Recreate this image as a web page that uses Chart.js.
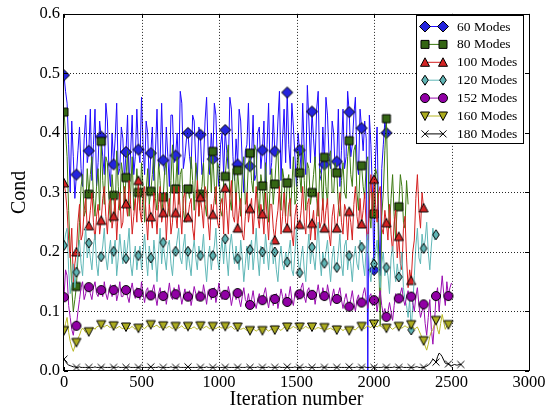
<!DOCTYPE html>
<html>
<head>
<meta charset="utf-8">
<script src="https://cdn.jsdelivr.net/npm/chart.js@4.4.1/dist/chart.umd.min.js"></script>
<style>
  html, body { margin: 0; padding: 0; background: #fff; }
  #wrap { width: 549px; height: 410px; }
</style>
</head>
<body>
<div id="wrap"><canvas id="cond" width="549" height="410"></canvas></div>
<script>
// samples are every 10 iterations, a marker on every 8th sample
const STEP = 10;
const MARK_EVERY = 8;

const seriesNames = ['60 Modes', '80 Modes', '100 Modes', '120 Modes', '152 Modes', '160 Modes', '180 Modes'];
const xTicks = [0, 500, 1000, 1500, 2000, 2500, 3000];
const yTicks = [0, 0.1, 0.2, 0.3, 0.4, 0.5, 0.6];

const modes60 = [
  0.497,0.47, 0.45,0.38, 0.30,0.42, 0.36,0.29, 0.33,0.37, 0.41,0.34, 0.31,0.39, 0.43,0.35,
  0.37,0.44, 0.32,0.38, 0.44,0.31, 0.35,0.42, 0.394,0.36, 0.33,0.45, 0.42,0.34, 0.31,0.40,
  0.347,0.39, 0.45,0.33, 0.34,0.41, 0.39,0.32, 0.368,0.43, 0.31,0.37, 0.43,0.33, 0.36,0.44,
  0.372,0.35, 0.46,0.38, 0.33,0.42, 0.40,0.31, 0.366,0.41, 0.32,0.37, 0.44,0.34, 0.35,0.45,
  0.354,0.33, 0.41,0.36, 0.31,0.43, 0.43,0.35, 0.362,0.40, 0.33,0.47, 0.45,0.34, 0.36,0.39,
  0.40,0.36, 0.34,0.43, 0.42,0.35, 0.32,0.41, 0.397,0.33, 0.35,0.42, 0.46,0.37, 0.33,0.40,
  0.356,0.45, 0.43,0.34, 0.31,0.38, 0.40,0.33, 0.405,0.37, 0.34,0.46, 0.44,0.36, 0.32,0.39,
  0.347,0.44, 0.42,0.35, 0.30,0.37, 0.38,0.45, 0.344,0.36, 0.43,0.32, 0.33,0.40, 0.41,0.34,
  0.371,0.42, 0.31,0.38, 0.45,0.33, 0.35,0.43, 0.369,0.36, 0.42,0.47, 0.32,0.39, 0.44,0.35,
  0.468,0.38, 0.34,0.45, 0.41,0.36, 0.31,0.40, 0.371,0.34, 0.45,0.37, 0.33,0.48, 0.42,0.35,
  0.436,0.39, 0.35,0.44, 0.47,0.33, 0.32,0.41, 0.347,0.46, 0.43,0.36, 0.34,0.42, 0.40,0.33,
  0.352,0.44, 0.31,0.37, 0.44,0.34, 0.36,0.47, 0.435,0.36, 0.38,0.43, 0.46,0.35, 0.33,0.44,
  0.408,0.37, 0.42,0.39, 0.00,0.43, 0.38,0.30, 0.17,0.36, 0.41,0.25, 0.16,0.34, 0.38,0.42,
  0.40
];
const modes80 = [
  0.435,0.40, 0.36,0.27, 0.20,0.14, 0.10,0.12, 0.142,0.19, 0.25,0.31, 0.33,0.26, 0.27,0.34,
  0.297,0.33, 0.36,0.29, 0.26,0.31, 0.34,0.27, 0.386,0.32, 0.28,0.36, 0.35,0.29, 0.25,0.33,
  0.295,0.26, 0.37,0.31, 0.27,0.35, 0.33,0.28, 0.325,0.37, 0.26,0.30, 0.36,0.27, 0.29,0.34,
  0.30,0.27, 0.35,0.31, 0.25,0.30, 0.34,0.28, 0.302,0.33, 0.37,0.29, 0.27,0.35, 0.32,0.26,
  0.292,0.34, 0.35,0.28, 0.26,0.32, 0.38,0.30, 0.306,0.36, 0.28,0.33, 0.34,0.27, 0.25,0.31,
  0.306,0.29, 0.36,0.32, 0.27,0.35, 0.33,0.26, 0.297,0.31, 0.35,0.28, 0.26,0.33, 0.37,0.30,
  0.369,0.31, 0.28,0.35, 0.34,0.27, 0.26,0.32, 0.327,0.36, 0.38,0.29, 0.27,0.34, 0.33,0.28,
  0.337,0.30, 0.26,0.33, 0.36,0.28, 0.29,0.35, 0.366,0.32, 0.30,0.38, 0.37,0.29, 0.26,0.33,
  0.311,0.27, 0.35,0.30, 0.25,0.31, 0.34,0.28, 0.314,0.36, 0.37,0.30, 0.27,0.34, 0.32,0.26,
  0.316,0.33, 0.26,0.31, 0.36,0.28, 0.29,0.37, 0.333,0.30, 0.38,0.32, 0.27,0.35, 0.34,0.28,
  0.30,0.33, 0.36,0.29, 0.26,0.34, 0.33,0.27, 0.359,0.31, 0.28,0.36, 0.37,0.30, 0.30,0.35,
  0.333,0.28, 0.26,0.32, 0.35,0.30, 0.29,0.36, 0.387,0.33, 0.31,0.37, 0.38,0.30, 0.27,0.34,
  0.345,0.31, 0.29,0.35, 0.36,0.27, 0.24,0.30, 0.264,0.34, 0.33,0.20, 0.075,0.26, 0.30,0.37,
  0.424,0.30, 0.24,0.29, 0.33,0.26, 0.22,0.28, 0.276,0.33, 0.31,0.25, 0.24,0.32, 0.28
];
const modes100 = [
  0.316,0.30, 0.27,0.22, 0.19,0.24, 0.15,0.18, 0.20,0.25, 0.28,0.22, 0.23,0.27, 0.29,0.24,
  0.244,0.27, 0.30,0.25, 0.22,0.26, 0.28,0.23, 0.253,0.29, 0.31,0.26, 0.23,0.28, 0.29,0.24,
  0.26,0.29, 0.22,0.27, 0.30,0.24, 0.25,0.31, 0.281,0.26, 0.32,0.28, 0.23,0.26, 0.29,0.25,
  0.32,0.27, 0.25,0.30, 0.31,0.26, 0.22,0.28, 0.259,0.24, 0.30,0.27, 0.23,0.28, 0.31,0.25,
  0.266,0.30, 0.22,0.27, 0.29,0.23, 0.25,0.31, 0.266,0.24, 0.31,0.27, 0.23,0.29, 0.30,0.25,
  0.258,0.28, 0.29,0.24, 0.22,0.27, 0.32,0.26, 0.292,0.27, 0.24,0.31, 0.30,0.25, 0.22,0.28,
  0.263,0.29, 0.31,0.25, 0.24,0.28, 0.29,0.23, 0.308,0.27, 0.23,0.29, 0.32,0.26, 0.25,0.30,
  0.24,0.27, 0.29,0.23, 0.22,0.26, 0.30,0.25, 0.273,0.29, 0.23,0.27, 0.31,0.26, 0.24,0.28,
  0.264,0.23, 0.30,0.26, 0.22,0.28, 0.28,0.24, 0.22,0.25, 0.27,0.31, 0.23,0.26, 0.30,0.25,
  0.24,0.28, 0.29,0.23, 0.21,0.26, 0.28,0.24, 0.246,0.27, 0.31,0.25, 0.23,0.28, 0.29,0.22,
  0.248,0.27, 0.22,0.26, 0.30,0.24, 0.25,0.29, 0.24,0.27, 0.29,0.23, 0.21,0.26, 0.28,0.24,
  0.24,0.27, 0.30,0.25, 0.23,0.28, 0.27,0.22, 0.268,0.25, 0.22,0.28, 0.31,0.26, 0.24,0.29,
  0.247,0.27, 0.30,0.24, 0.22,0.28, 0.33,0.26, 0.322,0.28, 0.25,0.30, 0.31,0.24, 0.23,0.27,
  0.249,0.22, 0.28,0.23, 0.20,0.25, 0.27,0.19, 0.226,0.18, 0.17,0.24, 0.26,0.19, 0.14,0.17,
  0.152,0.20, 0.22,0.29, 0.33,0.27, 0.24,0.30, 0.274
];
const modes120 = [
  0.211,0.23, 0.24,0.17, 0.13,0.15, 0.18,0.14, 0.166,0.20, 0.22,0.18, 0.16,0.21, 0.24,0.19,
  0.215,0.19, 0.17,0.21, 0.23,0.18, 0.16,0.20, 0.192,0.21, 0.24,0.19, 0.17,0.20, 0.22,0.18,
  0.201,0.22, 0.16,0.19, 0.23,0.20, 0.18,0.22, 0.189,0.21, 0.24,0.18, 0.16,0.19, 0.21,0.17,
  0.194,0.21, 0.17,0.20, 0.23,0.19, 0.16,0.21, 0.19,0.17, 0.22,0.19, 0.15,0.20, 0.24,0.18,
  0.216,0.19, 0.17,0.21, 0.22,0.18, 0.16,0.20, 0.201,0.22, 0.24,0.19, 0.18,0.21, 0.23,0.17,
  0.201,0.18, 0.16,0.20, 0.22,0.19, 0.17,0.21, 0.194,0.20, 0.23,0.18, 0.15,0.19, 0.21,0.17,
  0.194,0.21, 0.24,0.19, 0.17,0.20, 0.22,0.18, 0.222,0.19, 0.16,0.21, 0.23,0.20, 0.18,0.21,
  0.189,0.17, 0.22,0.19, 0.15,0.18, 0.21,0.17, 0.204,0.22, 0.17,0.20, 0.24,0.19, 0.16,0.21,
  0.20,0.18, 0.23,0.20, 0.17,0.21, 0.22,0.18, 0.20,0.17, 0.15,0.19, 0.21,0.18, 0.17,0.20,
  0.183,0.20, 0.22,0.17, 0.16,0.20, 0.24,0.19, 0.165,0.19, 0.21,0.17, 0.15,0.20, 0.23,0.18,
  0.208,0.19, 0.17,0.21, 0.25,0.19, 0.16,0.20, 0.181,0.20, 0.22,0.18, 0.15,0.19, 0.21,0.17,
  0.174,0.20, 0.23,0.18, 0.16,0.21, 0.22,0.17, 0.194,0.18, 0.15,0.19, 0.21,0.18, 0.17,0.22,
  0.208,0.18, 0.16,0.21, 0.23,0.17, 0.15,0.19, 0.18,0.20, 0.22,0.17, 0.14,0.18, 0.20,0.16,
  0.174,0.16, 0.13,0.19, 0.21,0.17, 0.15,0.18, 0.158,0.17, 0.20,0.14, 0.12,0.11, 0.09,0.12,
  0.069,0.11, 0.16,0.21, 0.24,0.19, 0.18,0.23, 0.206,0.22, 0.25,0.20, 0.17,0.21, 0.24,0.22,
  0.229
];
const modes152 = [
  0.124,0.17, 0.16,0.11, 0.09,0.07, 0.06,0.08, 0.076,0.10, 0.12,0.14, 0.15,0.12, 0.13,0.145,
  0.141,0.13, 0.12,0.14, 0.15,0.13, 0.125,0.14, 0.136,0.125, 0.15,0.13, 0.12,0.135, 0.145,0.125,
  0.136,0.145, 0.118,0.13, 0.15,0.125, 0.125,0.14, 0.136,0.125, 0.115,0.135, 0.148,0.13, 0.122,0.14,
  0.131,0.12, 0.15,0.13, 0.115,0.135, 0.14,0.12, 0.127,0.135, 0.145,0.125, 0.11,0.13, 0.14,0.12,
  0.126,0.135, 0.112,0.13, 0.148,0.125, 0.12,0.14, 0.129,0.12, 0.145,0.13, 0.112,0.125, 0.138,0.12,
  0.125,0.135, 0.11,0.125, 0.142,0.13, 0.118,0.135, 0.125,0.12, 0.145,0.13, 0.112,0.135, 0.138,0.12,
  0.131,0.14, 0.115,0.13, 0.148,0.125, 0.12,0.135, 0.128,0.12, 0.142,0.13, 0.11,0.125, 0.136,0.12,
  0.131,0.12, 0.108,0.125, 0.14,0.12, 0.115,0.13, 0.111,0.12, 0.135,0.115, 0.105,0.12, 0.13,0.115,
  0.119,0.13, 0.14,0.12, 0.106,0.125, 0.128,0.11, 0.121,0.13, 0.105,0.12, 0.138,0.125, 0.112,0.13,
  0.116,0.125, 0.142,0.12, 0.11,0.13, 0.135,0.12, 0.129,0.14, 0.148,0.125, 0.115,0.135, 0.14,0.12,
  0.128,0.135, 0.112,0.13, 0.145,0.125, 0.12,0.14, 0.126,0.12, 0.145,0.13, 0.11,0.125, 0.138,0.12,
  0.121,0.13, 0.14,0.12, 0.105,0.12, 0.13,0.115, 0.108,0.12, 0.135,0.115, 0.10,0.12, 0.128,0.11,
  0.115,0.13, 0.14,0.12, 0.105,0.125, 0.13,0.11, 0.119,0.125, 0.10,0.12, 0.135,0.11, 0.095,0.105,
  0.091,0.10, 0.115,0.10, 0.085,0.11, 0.13,0.12, 0.122,0.13, 0.14,0.12, 0.11,0.125, 0.135,0.12,
  0.125,0.115, 0.10,0.125, 0.14,0.11, 0.09,0.10, 0.112,0.08, 0.06,0.09, 0.12,0.07, 0.045,0.08,
  0.126,0.14, 0.10,0.13, 0.16,0.13, 0.11,0.15, 0.126,0.14, 0.148
];
const modes160 = [
  0.068,0.08, 0.09,0.065, 0.05,0.04, 0.033,0.042, 0.048,0.055, 0.06,0.068, 0.072,0.069, 0.065,0.07,
  0.066,0.07, 0.072,0.073, 0.07,0.074, 0.075,0.076, 0.078,0.075, 0.074,0.076, 0.077,0.074, 0.073,0.075,
  0.076,0.073, 0.072,0.074, 0.075,0.072, 0.071,0.073, 0.074,0.072, 0.071,0.073, 0.075,0.072, 0.07,0.073,
  0.072,0.074, 0.075,0.073, 0.071,0.074, 0.076,0.075, 0.078,0.075, 0.074,0.076, 0.077,0.074, 0.073,0.075,
  0.076,0.074, 0.072,0.074, 0.075,0.073, 0.071,0.074, 0.075,0.073, 0.072,0.074, 0.076,0.073, 0.071,0.073,
  0.075,0.072, 0.071,0.073, 0.074,0.072, 0.07,0.073, 0.076,0.074, 0.072,0.074, 0.075,0.073, 0.071,0.073,
  0.075,0.073, 0.071,0.073, 0.074,0.073, 0.072,0.074, 0.075,0.073, 0.072,0.074, 0.075,0.072, 0.07,0.072,
  0.074,0.072, 0.07,0.071, 0.072,0.07, 0.068,0.069, 0.068,0.07, 0.071,0.069, 0.067,0.069, 0.07,0.069,
  0.068,0.07, 0.071,0.069, 0.067,0.069, 0.07,0.07, 0.069,0.071, 0.072,0.07, 0.068,0.071, 0.073,0.073,
  0.074,0.072, 0.071,0.073, 0.075,0.073, 0.072,0.073, 0.074,0.072, 0.071,0.073, 0.075,0.073, 0.072,0.073,
  0.074,0.072, 0.07,0.072, 0.073,0.072, 0.071,0.072, 0.073,0.071, 0.07,0.071, 0.072,0.07, 0.069,0.07,
  0.069,0.071, 0.072,0.07, 0.068,0.07, 0.071,0.069, 0.068,0.07, 0.072,0.07, 0.069,0.072, 0.074,0.074,
  0.075,0.073, 0.071,0.074, 0.076,0.074, 0.073,0.076, 0.079,0.076, 0.074,0.076, 0.077,0.074, 0.071,0.072,
  0.072,0.074, 0.075,0.072, 0.07,0.072, 0.074,0.074, 0.075,0.073, 0.072,0.074, 0.076,0.074, 0.073,0.076,
  0.078,0.074, 0.07,0.072, 0.074,0.068, 0.062,0.056, 0.051,0.042, 0.035,0.045, 0.058,0.066, 0.07,0.078,
  0.085,0.07, 0.062,0.08, 0.095,0.082, 0.07,0.076, 0.078,0.08, 0.082
];
const modes180 = [
  0.02,0.016, 0.012,0.01, 0.009,0.008, 0.007,0.007, 0.006,0.006, 0.007,0.006, 0.006,0.006, 0.006,0.006,
  0.006,0.006, 0.006,0.006, 0.007,0.006, 0.006,0.006, 0.006,0.007, 0.006,0.006, 0.006,0.006, 0.006,0.007,
  0.006,0.006, 0.006,0.007, 0.006,0.006, 0.006,0.006, 0.006,0.006, 0.007,0.006, 0.006,0.006, 0.006,0.006,
  0.006,0.007, 0.006,0.006, 0.006,0.006, 0.006,0.006, 0.007,0.006, 0.006,0.006, 0.006,0.007, 0.006,0.006,
  0.006,0.006, 0.006,0.006, 0.006,0.007, 0.006,0.006, 0.006,0.006, 0.007,0.006, 0.006,0.006, 0.006,0.006,
  0.007,0.006, 0.006,0.006, 0.006,0.006, 0.006,0.007, 0.006,0.006, 0.006,0.006, 0.007,0.006, 0.006,0.006,
  0.006,0.006, 0.006,0.007, 0.006,0.006, 0.006,0.006, 0.006,0.007, 0.006,0.006, 0.006,0.006, 0.006,0.006,
  0.006,0.007, 0.006,0.006, 0.006,0.006, 0.007,0.006, 0.006,0.006, 0.006,0.006, 0.006,0.007, 0.006,0.006,
  0.006,0.006, 0.006,0.006, 0.007,0.006, 0.006,0.006, 0.006,0.006, 0.006,0.007, 0.006,0.006, 0.006,0.006,
  0.007,0.006, 0.006,0.006, 0.006,0.007, 0.006,0.006, 0.006,0.006, 0.006,0.006, 0.007,0.006, 0.006,0.006,
  0.006,0.006, 0.006,0.006, 0.006,0.006, 0.007,0.006, 0.006,0.007, 0.006,0.006, 0.006,0.006, 0.006,0.006,
  0.006,0.007, 0.006,0.006, 0.006,0.006, 0.006,0.006, 0.007,0.006, 0.006,0.006, 0.006,0.007, 0.006,0.006,
  0.006,0.006, 0.007,0.006, 0.006,0.006, 0.006,0.007, 0.006,0.006, 0.006,0.006, 0.006,0.006, 0.007,0.006,
  0.006,0.006, 0.006,0.006, 0.006,0.007, 0.006,0.006, 0.006,0.006, 0.007,0.006, 0.006,0.006, 0.006,0.006,
  0.006,0.006, 0.006,0.007, 0.007,0.006, 0.006,0.006, 0.006,0.007, 0.008,0.01, 0.012,0.016, 0.02,0.018,
  0.015,0.024, 0.03,0.028, 0.024,0.018, 0.013,0.012, 0.012,0.01, 0.009,0.01, 0.011,0.01, 0.01,0.011,
  0.011
];

const allValues = [modes60, modes80, modes100, modes120, modes152, modes160, modes180];

// styles
const lineColors = ['#1f0aff', '#3d7a12', '#d42020', '#5fb7b7', '#9a0cb0', '#b8b824', '#000000'];
const fillColors = ['#2424dc', '#356614', '#d42424', '#5fb4b4', '#9100a5', '#acac1e', '#000000'];
const markerKinds = ['diamond', 'square', 'triUp', 'thinDiamond', 'circle', 'triDown', 'x'];

function drawMarker(ctx, kind, x, y, fill) {
  ctx.save();
  ctx.lineWidth = 1;
  ctx.strokeStyle = '#000';
  ctx.fillStyle = fill;
  ctx.beginPath();
  switch (kind) {
    case 'diamond':
      ctx.moveTo(x, y - 5.5); ctx.lineTo(x + 5.5, y); ctx.lineTo(x, y + 5.5); ctx.lineTo(x - 5.5, y);
      ctx.closePath(); break;
    case 'square':
      ctx.rect(x - 4, y - 4, 8, 8); break;
    case 'triUp':
      ctx.moveTo(x, y - 4.5); ctx.lineTo(x + 4.5, y + 4); ctx.lineTo(x - 4.5, y + 4);
      ctx.closePath(); break;
    case 'triDown':
      ctx.moveTo(x, y + 4.5); ctx.lineTo(x + 4.5, y - 4); ctx.lineTo(x - 4.5, y - 4);
      ctx.closePath(); break;
    case 'thinDiamond':
      ctx.moveTo(x, y - 5); ctx.lineTo(x + 3.3, y); ctx.lineTo(x, y + 5); ctx.lineTo(x - 3.3, y);
      ctx.closePath(); break;
    case 'circle':
      ctx.arc(x, y, 4.5, 0, Math.PI * 2); break;
    case 'x':
      ctx.moveTo(x - 3.5, y - 3.5); ctx.lineTo(x + 3.5, y + 3.5);
      ctx.moveTo(x + 3.5, y - 3.5); ctx.lineTo(x - 3.5, y + 3.5);
      break;
  }
  if (kind !== 'x') ctx.fill();
  ctx.stroke();
  ctx.restore();
}

function markerImage(kind, fill) {
  const c = document.createElement('canvas');
  c.width = 14; c.height = 14;
  drawMarker(c.getContext('2d'), kind, 7, 7, fill);
  return c;
}

const datasets = allValues.map((vals, i) => ({
  label: seriesNames[i],
  data: vals.map((v, k) => ({ x: k * STEP, y: v })),
  borderColor: lineColors[i],
  borderWidth: 1,
  pointStyle: markerImage(markerKinds[i], fillColors[i]),
  pointRadius: c => (c.dataIndex % MARK_EVERY === 0 ? 5 : 0),
  pointHoverRadius: 0,
  tension: 0,
  order: seriesNames.length - 1 - i
}));

const frame = {
  id: 'frame',
  afterDatasetsDraw(chart) {
    const { ctx, chartArea: a, scales: { x, y } } = chart;
    ctx.save();
    // dotted grid on top of the lines
    ctx.strokeStyle = 'rgba(0,0,0,0.85)';
    ctx.lineWidth = 1;
    ctx.setLineDash([1, 2]);
    xTicks.slice(1, -1).forEach(v => {
      const px = Math.round(x.getPixelForValue(v)) + 0.5;
      ctx.beginPath(); ctx.moveTo(px, a.top); ctx.lineTo(px, a.bottom); ctx.stroke();
    });
    yTicks.slice(1, -1).forEach(v => {
      const py = Math.round(y.getPixelForValue(v)) + 0.5;
      ctx.beginPath(); ctx.moveTo(a.left, py); ctx.lineTo(a.right, py); ctx.stroke();
    });
    ctx.setLineDash([]);
    // inward ticks on all four sides
    ctx.strokeStyle = '#000';
    ctx.beginPath();
    xTicks.forEach(v => {
      const px = Math.round(x.getPixelForValue(v)) + 0.5;
      ctx.moveTo(px, a.bottom); ctx.lineTo(px, a.bottom - 4);
      ctx.moveTo(px, a.top); ctx.lineTo(px, a.top + 4);
    });
    yTicks.forEach(v => {
      const py = Math.round(y.getPixelForValue(v)) + 0.5;
      ctx.moveTo(a.left, py); ctx.lineTo(a.left + 4, py);
      ctx.moveTo(a.right, py); ctx.lineTo(a.right - 4, py);
    });
    ctx.stroke();
    ctx.strokeRect(Math.round(a.left) - 0.5, Math.round(a.top) + 0.5,
      Math.round(a.right - a.left) + 1, Math.round(a.bottom - a.top) - 1);

    // legend, marker-line-marker like matplotlib
    const bx = a.right - 113, by = 15.5, bw = 107, bh = 128;
    ctx.fillStyle = '#fff';
    ctx.fillRect(bx, by, bw, bh);
    ctx.strokeStyle = '#000';
    ctx.strokeRect(bx + 0.5, by, bw, bh);
    ctx.font = '13.5px "Liberation Serif", serif';
    ctx.textBaseline = 'middle';
    seriesNames.forEach((name, i) => {
      const ly = by + 11 + i * 17.9;
      const x1 = bx + 9, x2 = bx + 27;
      ctx.strokeStyle = lineColors[i];
      ctx.beginPath(); ctx.moveTo(x1, ly); ctx.lineTo(x2, ly); ctx.stroke();
      drawMarker(ctx, markerKinds[i], x1, ly, fillColors[i]);
      drawMarker(ctx, markerKinds[i], x2, ly, fillColors[i]);
      ctx.fillStyle = '#000';
      ctx.fillText(name, bx + 41, ly + 0.5);
    });
    ctx.restore();
  }
};

Chart.defaults.font.family = '"Liberation Serif", serif';
Chart.defaults.color = '#000';

new Chart(document.getElementById('cond'), {
  type: 'line',
  data: { datasets },
  options: {
    responsive: false,
    animation: false,
    events: [],
    layout: { padding: { top: 11, right: 20, left: 0, bottom: 0 } },
    plugins: { legend: { display: false }, tooltip: { enabled: false } },
    scales: {
      x: {
        type: 'linear',
        min: 0, max: 3000,
        afterBuildTicks: s => { s.ticks = xTicks.map(v => ({ value: v })); },
        afterFit: s => { s.height = 39; },
        ticks: { padding: 2, font: { size: 16.5 }, color: '#000', maxRotation: 0, callback: v => String(v) },
        grid: { display: false, drawTicks: false },
        border: { display: false },
        title: { display: true, text: 'Iteration number', font: { size: 20 }, color: '#000', padding: { top: 0, bottom: -2 } }
      },
      y: {
        min: 0, max: 0.6,
        afterBuildTicks: s => { s.ticks = yTicks.map(v => ({ value: v })); },
        afterFit: s => { s.width = 64; },
        ticks: { padding: 4, font: { size: 16.5 }, color: '#000', callback: v => v.toFixed(1) },
        grid: { display: false, drawTicks: false },
        border: { display: false },
        title: { display: true, text: 'Cond', font: { size: 20 }, color: '#000', padding: { top: 8, bottom: 0 } }
      }
    }
  },
  plugins: [frame]
});
</script>
</body>
</html>
